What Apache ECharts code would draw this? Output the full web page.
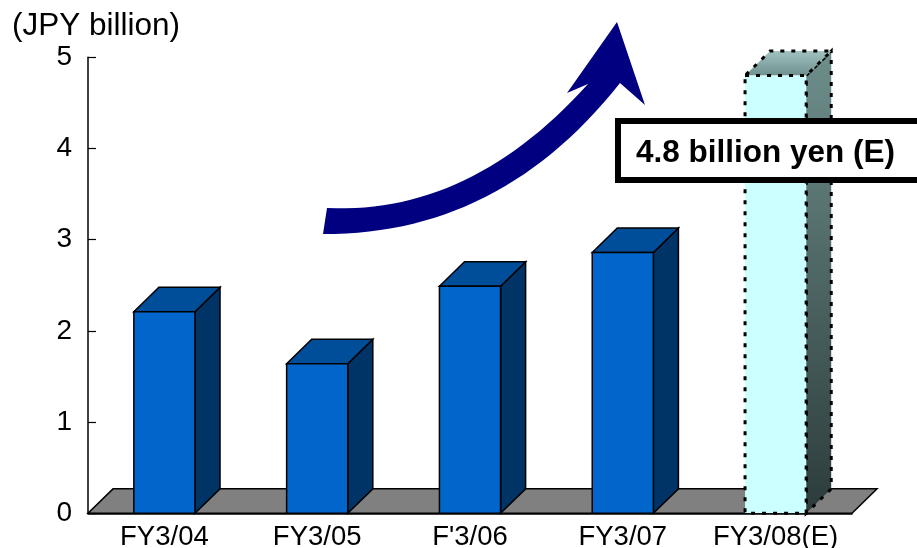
<!DOCTYPE html>
<html>
<head>
<meta charset="utf-8">
<script src="https://cdn.jsdelivr.net/npm/echarts@6/dist/echarts.min.js"></script>
<style>
html,body{margin:0;padding:0;background:#fff;}
#chart{width:917px;height:548px;}
</style>
</head>
<body>
<div id="chart"></div>
<script>
// ---- data ----
const categories = ['FY3/04', 'FY3/05', "F'3/06", 'FY3/07', 'FY3/08(E)'];
const sales = [2.21, 1.64, 2.49, 2.86, 4.8];
const isEstimate = [0, 0, 0, 0, 1];
const yTicks = [0, 1, 2, 3, 4, 5];
const unitLabel = '(JPY billion)';
const calloutText = '4.8 billion yen (E)';

const FONT = '"Liberation Sans", Arial, sans-serif';
const DEPTH_RATIO = 0.164; // depth offset relative to category band width

// decorative arrow outline (quadratic curves sampled into a polygon)
function quad(p0, c, p1, n) {
  const pts = [];
  for (let i = 0; i <= n; i++) {
    const t = i / n, u = 1 - t;
    pts.push([u * u * p0[0] + 2 * u * t * c[0] + t * t * p1[0], u * u * p0[1] + 2 * u * t * c[1] + t * t * p1[1]]);
  }
  return pts;
}
const arrowPts = [].concat(
  quad([327, 208], [470, 215], [588, 84], 30),
  [[567, 93], [617, 22], [645, 105]],
  quad([620, 83], [500, 235], [323, 234], 30)
);

const chart = echarts.init(document.getElementById('chart'), null, {renderer: 'canvas'});

function floorItem(params, api) {
  const cs = params.coordSys;
  const band = api.size([1, 0])[0];
  const d = band * DEPTH_RATIO;
  const b = cs.y + cs.height;
  const l = cs.x, r = cs.x + cs.width;
  return {
    type: 'polygon',
    shape: {points: [[l, b], [r, b], [r + d, b - d * 0.975], [l + d, b - d * 0.975]]},
    style: {fill: '#808080', stroke: '#000', lineWidth: 1.5}
  };
}

function grad(c0, c1) {
  return {type: 'linear', x: 0, y: 0, x2: 0, y2: 1, colorStops: [{offset: 0, color: c0}, {offset: 1, color: c1}]};
}

function barItem(params, api) {
  const idx = api.value(0);
  const v = api.value(1);
  const est = api.value(2);
  const base = api.coord([idx, 0]);
  const top = api.coord([idx, v]);
  const band = api.size([1, 0])[0];
  const bw = band * 0.4;
  const dx = band * DEPTH_RATIO, dy = dx * 0.975;
  const x0 = base[0] - bw / 2, x1 = base[0] + bw / 2;
  const y0 = top[1], y1 = base[1];
  let frontStyle, topStyle, sideStyle;
  if (est) {
    const dash = {stroke: '#000', lineWidth: 3, lineDash: [4, 7]};
    frontStyle = Object.assign({fill: '#CCFFFF'}, dash);
    topStyle = Object.assign({fill: grad('#A3C6C4', '#6B8C8A')}, dash);
    sideStyle = Object.assign({fill: grad('#6E8F8D', '#2C3B3B')}, dash);
  } else {
    const line = {stroke: '#000', lineWidth: 1.5};
    frontStyle = Object.assign({fill: '#0066CC'}, line);
    topStyle = Object.assign({fill: '#004E99'}, line);
    sideStyle = Object.assign({fill: '#003366'}, line);
  }
  return {
    type: 'group',
    children: [
      {type: 'polygon', shape: {points: [[x1, y0], [x1 + dx, y0 - dy], [x1 + dx, y1 - dy], [x1, y1]]}, style: sideStyle},
      {type: 'polygon', shape: {points: [[x0, y0], [x1, y0], [x1 + dx, y0 - dy], [x0 + dx, y0 - dy]]}, style: topStyle},
      {type: 'rect', shape: {x: x0, y: y0, width: bw, height: y1 - y0}, style: frontStyle}
    ]
  };
}

const option = {
  backgroundColor: '#fff',
  animation: false,
  grid: {left: 88, top: 57.3, right: 65, bottom: 34.7, containLabel: false, outerBoundsMode: 'none'},
  xAxis: {
    type: 'category',
    data: categories,
    boundaryGap: true,
    z: 10,
    axisLine: {lineStyle: {color: '#000', width: 1.5}},
    axisTick: {inside: true, length: 8, lineStyle: {color: '#000', width: 1.2}},
    axisLabel: {color: '#000', fontSize: 27.5, fontFamily: FONT, margin: 10, interval: 0}
  },
  yAxis: {
    type: 'value',
    min: yTicks[0],
    max: yTicks[yTicks.length - 1],
    interval: 1,
    z: 10,
    axisLine: {show: true, lineStyle: {color: '#000', width: 1.5}},
    axisTick: {show: true, inside: true, length: 8, lineStyle: {color: '#000', width: 1.2}},
    splitLine: {show: false},
    axisLabel: {color: '#000', fontSize: 28, fontFamily: FONT, margin: 16}
  },
  series: [
    {
      type: 'custom',
      renderItem: floorItem,
      data: [[0, 0]],
      z: 1,
      silent: true
    },
    {
      type: 'custom',
      renderItem: barItem,
      encode: {x: 0, y: 1},
      data: sales.map((v, i) => [i, v, isEstimate[i]]),
      z: 3
    }
  ],
  graphic: [
    {
      type: 'text', left: 12, top: 10, z: 50,
      style: {text: unitLabel, fontSize: 31.5, fontFamily: FONT, fill: '#000'}
    },
    {
      type: 'polygon', z: 50,
      shape: {points: arrowPts},
      style: {fill: '#000080'}
    },
    {
      type: 'rect', z: 60,
      shape: {x: 618, y: 121, width: 330, height: 59},
      style: {fill: '#fff', stroke: '#000', lineWidth: 6}
    },
    {
      type: 'text', z: 61, x: 636, y: 153,
      style: {text: calloutText, fontSize: 31.5, fontWeight: 'bold', fontFamily: FONT, fill: '#000', verticalAlign: 'middle'}
    }
  ]
};
chart.setOption(option);
</script>
</body>
</html>
